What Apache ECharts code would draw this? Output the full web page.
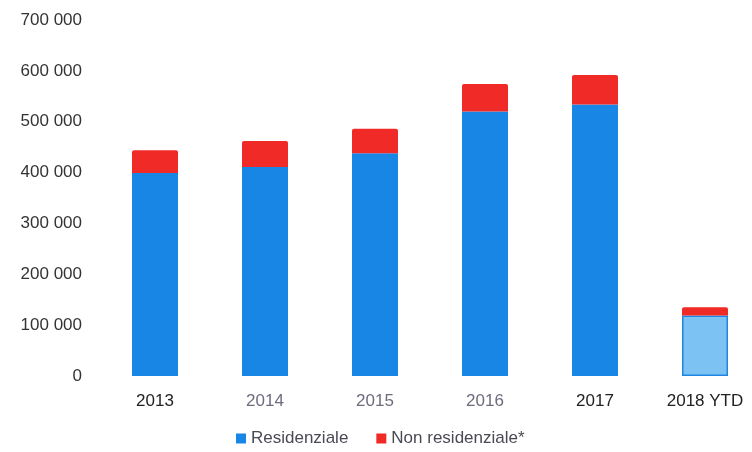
<!DOCTYPE html>
<html>
<head>
<meta charset="utf-8">
<script src="https://cdn.jsdelivr.net/npm/echarts@6/dist/echarts.min.js"></script>
<style>
  html, body { margin: 0; padding: 0; background: #fff; overflow: hidden; }
  #chart { width: 760px; height: 452px; }
</style>
</head>
<body>
<div id="chart"></div>
<script>
// Compravendite per anno: residenziale e non residenziale
const categories = ['2013', '2014', '2015', '2016', '2017', '2018 YTD'];
const residenziale = [399000, 411000, 438000, 520000, 534000, 119000];
const nonResidenziale = [45000, 51000, 48000, 54000, 58000, 16000];
const yTicks = [0, 100000, 200000, 300000, 400000, 500000, 600000, 700000];

const FONT = '"Liberation Sans", Arial, sans-serif';
const BLUE = '#1886e4';
const RED = '#f02a26';
const labelColors = ['#222222', '#6c6c7e', '#6c6c7e', '#6c6c7e', '#222222', '#222222'];

function withSpaces(v) {
  return String(v).replace(/\B(?=(\d{3})+(?!\d))/g, ' ');
}

const resData = residenziale.map(function (v, i) {
  if (categories[i].indexOf('YTD') >= 0) {
    return { value: v, itemStyle: { color: '#7cc3f3', borderColor: '#1e86e2', borderWidth: 1.5 } };
  }
  return v;
});

const chart = echarts.init(document.getElementById('chart'), null, { renderer: 'canvas' });
chart.setOption({
  animation: false,
  backgroundColor: '#ffffff',
  grid: { left: 100, top: 20, right: 0, bottom: 76, containLabel: false },
  legend: {
    bottom: 0,
    left: 231,
    itemWidth: 10,
    itemHeight: 10,
    itemGap: 28,
    icon: 'rect',
    textStyle: { fontFamily: FONT, fontSize: 17, color: '#4a4a55' },
    data: [
      { name: 'Residenziale', itemStyle: { color: BLUE } },
      { name: 'Non residenziale*', itemStyle: { color: RED } }
    ]
  },
  xAxis: {
    type: 'category',
    data: categories,
    axisLine: { show: false },
    axisTick: { show: false },
    splitLine: { show: false },
    axisLabel: {
      fontFamily: FONT,
      fontSize: 17,
      margin: 17,
      interval: 0,
      color: function (value, index) { return labelColors[index]; }
    }
  },
  yAxis: {
    type: 'value',
    min: yTicks[0],
    max: yTicks[yTicks.length - 1],
    interval: yTicks[1] - yTicks[0],
    axisLine: { show: false },
    axisTick: { show: false },
    splitLine: { show: false },
    axisLabel: {
      fontFamily: FONT,
      fontSize: 17,
      color: '#333333',
      margin: 18,
      formatter: withSpaces
    }
  },
  series: [
    {
      name: 'Residenziale',
      type: 'bar',
      stack: 'tot',
      barWidth: 46,
      itemStyle: { color: BLUE },
      data: resData
    },
    {
      name: 'Non residenziale*',
      type: 'bar',
      stack: 'tot',
      barWidth: 46,
      itemStyle: { color: RED, borderRadius: [2, 2, 0, 0] },
      data: nonResidenziale
    }
  ]
});
</script>
</body>
</html>
